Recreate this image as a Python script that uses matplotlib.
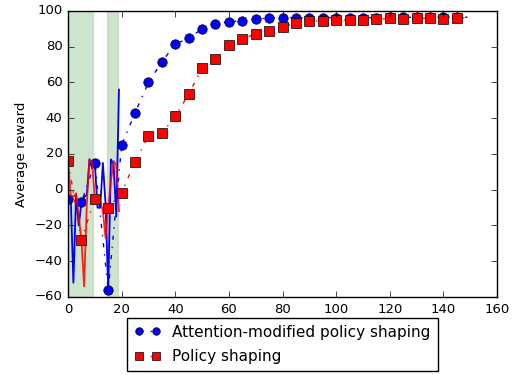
import numpy as np
import matplotlib
matplotlib.use('Agg')
import matplotlib.pyplot as plt

plt.style.use('classic')

# per-episode reward during the first 20 episodes
episodes = np.arange(20)
attn_raw = [-5, -4, -52, -3, -20, -7, -4, -3, 17, 12,
            15, -10, -10, 15, -8, -56, 17, 14, -15, 56]
ps_raw = [16, -3, -4, -2, -15, -28, -54, -8, 17, 15,
          -5, -4, -6, -12, -27, -10, 5, 16, 14, -12]

# averaged reward every 5 episodes (last point is episode 149)
avg_x = list(range(0, 150, 5)) + [149]
attn_avg = [-5, -7, 15, -56, 25, 43, 60, 71.5, 81.5, 84.7,
            90, 93, 94, 94.4, 95.3, 96.3, 96.3, 96.3, 96.3, 96.3,
            96.3, 96.3, 96.3, 96.3, 96.5, 96.5, 96.5, 96.5, 96.5, 96.5, 96.5]
ps_avg = [16, -28, -5, -10, -1.7, 15.7, 30, 31.6, 41, 53.5,
          68, 73, 81, 84.3, 87.3, 89, 91.2, 93.1, 94.2, 94.4,
          94.7, 95, 95, 95.3, 95.9, 95.4, 95.8, 96, 95.4, 96.1, 96.1]

# episodes where attention was active
spans = [(0, 9.5), (14.5, 18.5)]

fig = plt.figure(figsize=(5.13, 3.75), dpi=100, facecolor='w')
ax = fig.add_axes([0.1326, 0.208, 0.8362, 0.7627])

for a, b in spans:
    ax.axvspan(a, b, color='g', alpha=0.2, ec='0.5', lw=1)

ax.plot(episodes, attn_raw, 'b-', lw=1.3)
ax.plot(avg_x, attn_avg, 'b-.', marker='o', ms=6.8, mew=0.5,
        markevery=slice(0, 30), label='Attention-modified policy shaping')
ax.plot(episodes, ps_raw, 'r-', lw=1.3, alpha=0.85)
ax.plot(avg_x, ps_avg, 'r-.', marker='s', ms=6.6, mew=0.5,
        markevery=slice(0, 30), label='Policy shaping')

ax.set_xlim(0, 160)
ax.set_ylim(-60, 100)
ax.tick_params(labelsize=9.5)
ax.set_ylabel('Average reward', fontsize=9.5)

ax.legend(loc='upper center', bbox_to_anchor=(0.5, -0.073), borderaxespad=0,
          numpoints=2, fontsize=11, borderpad=0.45, labelspacing=0.6,
          handlelength=1.7, markerscale=0.8)

fig.savefig('out.png', dpi=100, facecolor='w')
